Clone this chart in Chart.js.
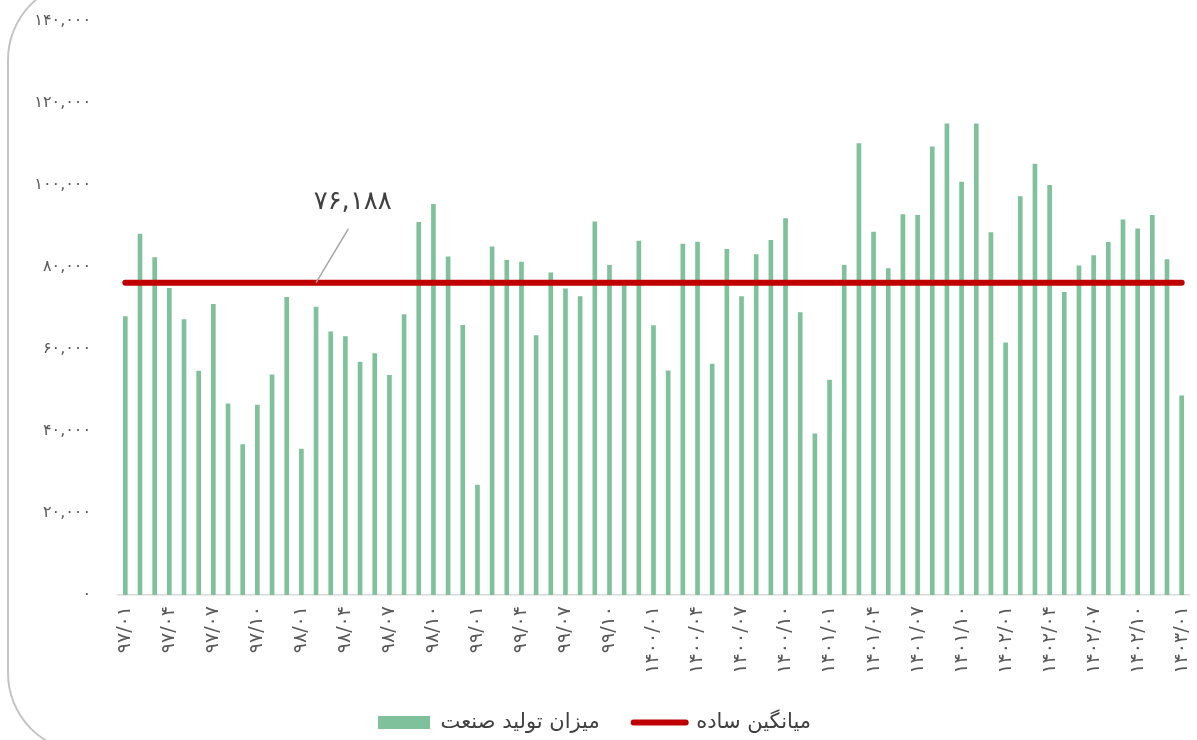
<!DOCTYPE html>
<html lang="fa">
<head>
<meta charset="utf-8">
<title>میزان تولید صنعت</title>
<script src="https://cdn.jsdelivr.net/npm/chart.js@4.4.1/dist/chart.umd.min.js"></script>
<style>
    html, body { margin: 0; padding: 0; background: #ffffff; overflow: hidden; }
    #wrap { position: relative; width: 1197px; height: 740px; overflow: hidden; }
    #frame {
        position: absolute; left: 7px; top: -20px; width: 3000px; height: 769px;
        border: 2px solid #c4c4c4; border-radius: 80px; pointer-events: none;
    }
</style>
</head>
<body>
<div id="wrap">
    <canvas id="grafico" width="1197" height="740"></canvas>
    <div id="frame"></div>
</div>
<script>
// سال‌ها و ماه‌ها برای برچسب محور افقی
const years = ["۹۷", "۹۸", "۹۹", "۱۴۰۰", "۱۴۰۱", "۱۴۰۲"];
const months = ["۰۱", "۰۲", "۰۳", "۰۴", "۰۵", "۰۶", "۰۷", "۰۸", "۰۹", "۱۰", "۱۱", "۱۲"];
const lastLabel = "۱۴۰۳/۰۱";

// میزان تولید صنعت (ماهانه، از ۹۷/۰۱ تا ۱۴۰۳/۰۱)
const production = [
    67900, 88000, 82300, 74800, 67200, 54600, 70900, 46600, 36700, 46300, 53700, 72600,
    35600, 70200, 64200, 63000, 56800, 58900, 53600, 68400, 90900, 95300, 82500, 65800,
    26800, 84900, 81600, 81200, 63300, 78600, 74700, 72800, 91000, 80400, 75400, 86300,
    65700, 54700, 85600, 86100, 56300, 84300, 72800, 83000, 86500, 91800, 68900, 39300,
    52400, 80400, 110100, 88500, 79600, 92800, 92600, 109300, 114900, 100700, 114900, 88400,
    61500, 97200, 105100, 99900, 73800, 80300, 82800, 86000, 91500, 89300, 92600, 81800,
    48600
];

// میانگین ساده
const avgValue = 76188;
const avgText = "۷۶,۱۸۸";

const yTicks = [0, 20000, 40000, 60000, 80000, 100000, 120000, 140000];

const labels = [];
years.forEach(y => months.forEach(m => labels.push(y + "/" + m)));
labels.push(lastLabel);

function toPersian(s) {
    return String(s).replace(/[0-9]/g, d => "۰۱۲۳۴۵۶۷۸۹"[d]);
}

const FONT = "'DejaVu Sans', 'Noto Sans', sans-serif";

// برچسب مقدار میانگین با خط راهنما
const avgLabelPlugin = {
    id: "avgLabel",
    afterDatasetsDraw(chart) {
        const ctx = chart.ctx;
        const x = chart.scales.x;
        const y = chart.scales.y;
        ctx.save();
        ctx.strokeStyle = "#a6a6a6";
        ctx.lineWidth = 1.5;
        ctx.beginPath();
        ctx.moveTo(x.getPixelForValue(15.2), y.getPixelForValue(89300));
        ctx.lineTo(x.getPixelForValue(13), y.getPixelForValue(avgValue));
        ctx.stroke();
        ctx.fillStyle = "#404040";
        ctx.font = "26px " + FONT;
        ctx.textAlign = "center";
        ctx.textBaseline = "middle";
        ctx.fillText(avgText, x.getPixelForValue(15.5), y.getPixelForValue(95800));
        ctx.restore();
    }
};

// جابه‌جایی راهنما به پایین
const legendFitPlugin = {
    id: "legendFit",
    beforeInit(chart) {
        const fit = chart.legend.fit;
        chart.legend.fit = function() {
            fit.bind(chart.legend)();
            this.height = 62;
        };
    }
};

new Chart(document.getElementById("grafico"), {
    type: "bar",
    data: {
        labels: labels,
        datasets: [{
            label: "میزان تولید صنعت",
            data: production,
            backgroundColor: "#7fc19b",
            barThickness: 4,
            order: 2
        }, {
            type: "line",
            label: "میانگین ساده",
            data: labels.map(() => avgValue),
            borderColor: "#c00000",
            backgroundColor: "#c00000",
            borderWidth: 6,
            borderCapStyle: "round",
            pointRadius: 0,
            order: 1
        }]
    },
    options: {
        responsive: false,
        animation: false,
        layout: { padding: { top: 21, right: 8, left: 0, bottom: 0 } },
        scales: {
            x: {
                grid: { display: false, drawTicks: false },
                border: { display: true, color: "#d9d9d9", width: 1.5 },
                afterFit(scale) {
                    scale.height = 83;
                    scale.paddingLeft = 0;
                    scale.paddingRight = 0;
                },
                ticks: {
                    autoSkip: false,
                    minRotation: 90,
                    maxRotation: 90,
                    padding: 11,
                    color: "#595959",
                    font: { family: FONT, size: 19 },
                    callback: (v, i) => i % 3 === 0 ? labels[i] : ""
                }
            },
            y: {
                min: 0,
                max: 140000,
                grid: { display: false, drawTicks: false },
                border: { display: false },
                afterFit(scale) {
                    scale.width = 118;
                    scale.paddingTop = 0;
                    scale.paddingBottom = 0;
                },
                afterBuildTicks(scale) { scale.ticks = yTicks.map(v => ({ value: v })); },
                ticks: {
                    padding: 27,
                    color: "#595959",
                    font: { family: FONT, size: 16 },
                    callback: v => toPersian(v.toLocaleString("en-US"))
                }
            }
        },
        plugins: {
            tooltip: { enabled: false },
            legend: {
                position: "bottom",
                reverse: true,
                labels: {
                    color: "#404040",
                    font: { family: FONT, size: 21 },
                    padding: 34,
                    boxWidth: 52,
                    boxHeight: 13,
                    usePointStyle: true,
                    pointStyleWidth: 52,
                    generateLabels(chart) {
                        const items = Chart.defaults.plugins.legend.labels.generateLabels(chart);
                        items.forEach(it => {
                            if (it.datasetIndex === 1) {
                                it.pointStyle = "line";
                                it.strokeStyle = "#c00000";
                                it.lineWidth = 6;
                                it.lineCap = "round";
                            } else {
                                it.pointStyle = "rect";
                                it.fillStyle = "#7fc19b";
                                it.strokeStyle = "#7fc19b";
                                it.lineWidth = 0;
                            }
                        });
                        return items;
                    }
                }
            }
        }
    },
    plugins: [avgLabelPlugin, legendFitPlugin]
});
</script>
</body>
</html>
